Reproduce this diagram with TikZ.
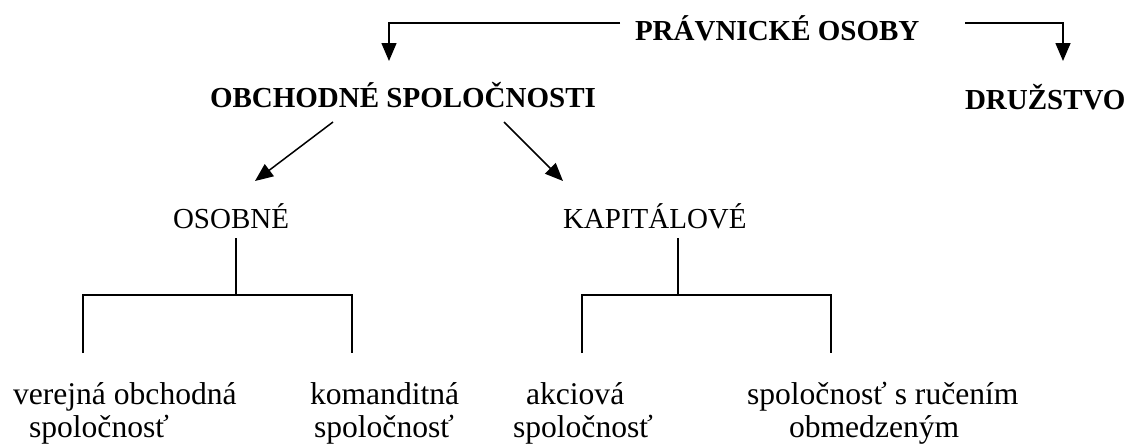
\documentclass[tikz,border=0pt]{standalone}
\usepackage{fontspec}
\setmainfont{Liberation Serif}
\usetikzlibrary{arrows.meta}
\begin{document}
\begin{tikzpicture}[x=1pt,y=-1pt,
  lbl/.style={anchor=base west,inner sep=0pt,outer sep=0pt},
  hd/.style={lbl,font=\fontsize{29}{34}\selectfont\bfseries},
  mid/.style={lbl,font=\fontsize{29}{34}\selectfont},
  leaf/.style={lbl,font=\fontsize{31.6}{34}\selectfont},
  ln/.style={line width=1.5pt},
  arr/.style={ln,-{Triangle[length=18pt,width=15pt]}}]
\useasboundingbox (0,0) rectangle (1146,445);
% texts
\node[hd] (prav) at (635,40) {PRÁVNICKÉ OSOBY};
\node[hd] (obch) at (210,107) {OBCHODNÉ SPOLOČNOSTI};
\node[hd] (druz) at (965,109) {DRUŽSTVO};
\node[mid] (osob) at (173,228) {OSOBNÉ};
\node[mid] (kap) at (563,228) {KAPITÁLOVÉ};
\node[leaf] (vos1) at (13,404) {verejná obchodná};
\node[leaf] (vos2) at (29,437) {spoločnosť};
\node[leaf] (ks1) at (310,404) {komanditná};
\node[leaf] (ks2) at (314,437) {spoločnosť};
\node[leaf] (as1) at (526,404) {akciová};
\node[leaf] (as2) at (513,437) {spoločnosť};
\node[leaf] (sro1) at (747,404) {spoločnosť s ručením};
\node[leaf] (sro2) at (789,437) {obmedzeným};
% coordinates
\coordinate (pL) at (620,23);
\coordinate (tL) at (389,61);
\coordinate (pR) at (965,23);
\coordinate (tR) at (1063,61);
\coordinate (oL) at (333,122);
\coordinate (oR) at (504,122);
\coordinate (aL) at (255,181);
\coordinate (aR) at (563,181);
\coordinate (osT) at (236,238);
\coordinate (osM) at (236,295);
\coordinate (osL) at (83,295);
\coordinate (osR) at (352,295);
\coordinate (osLB) at (83,353);
\coordinate (osRB) at (352,353);
\coordinate (kaT) at (678,238);
\coordinate (kaM) at (678,295);
\coordinate (kaL) at (582,295);
\coordinate (kaR) at (831,295);
\coordinate (kaLB) at (582,353);
\coordinate (kaRB) at (831,353);
% connectors
\draw[arr] (pL) -| (tL);
\draw[arr] (pR) -| (tR);
\draw[arr] (oL) -- (aL);
\draw[arr] (oR) -- (aR);
\draw[ln] (osT) -- (osM);
\draw[ln] (osLB) -- (osL) -- (osR) -- (osRB);
\draw[ln] (kaT) -- (kaM);
\draw[ln] (kaLB) -- (kaL) -- (kaR) -- (kaRB);
\end{tikzpicture}
\end{document}
